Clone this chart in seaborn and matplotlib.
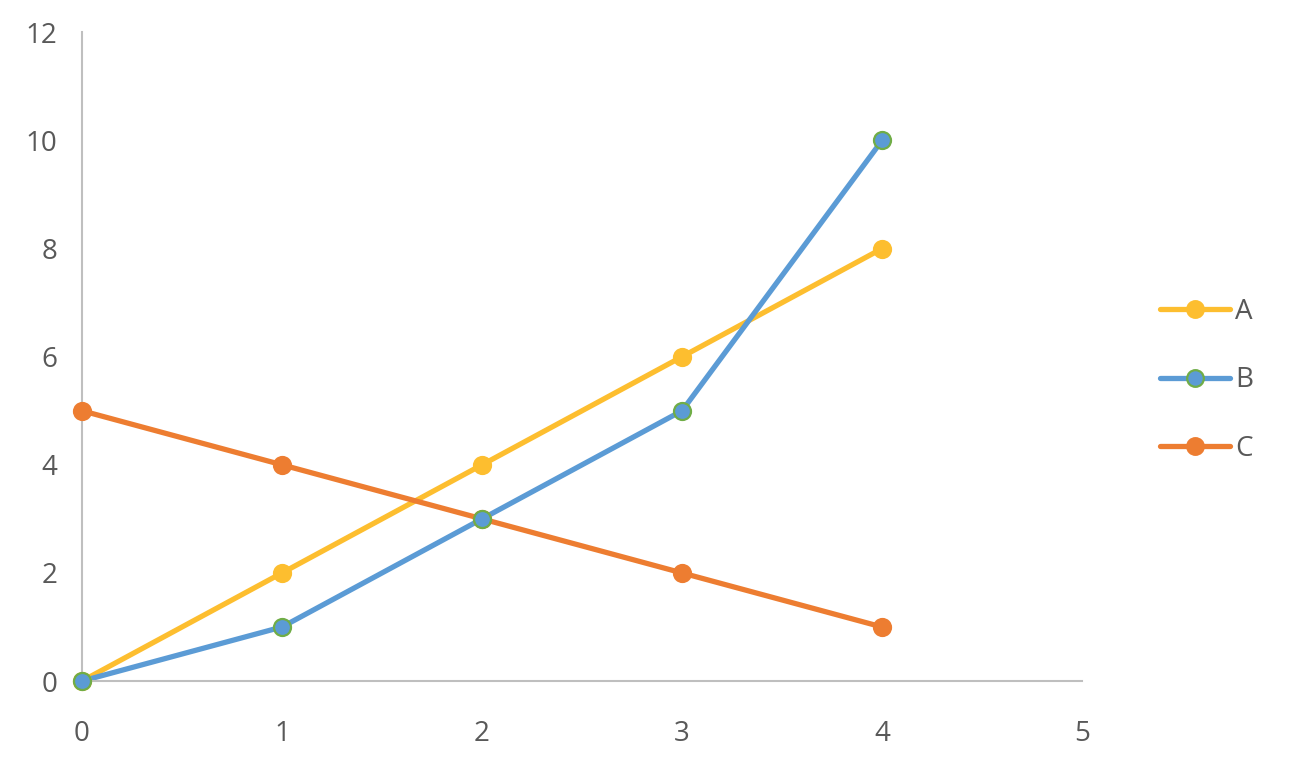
import matplotlib
matplotlib.use("Agg")
import matplotlib.pyplot as plt
from matplotlib.lines import Line2D
import pandas as pd
import seaborn as sns

x_vals = [0, 1, 2, 3, 4]
series_a = [0, 2, 4, 6, 8]
series_b = [0, 1, 3, 5, 10]
series_c = [5, 4, 3, 2, 1]
names = ["A", "B", "C"]

colors = {"A": "#FDBE2F", "B": "#5B9BD5", "C": "#ED7D31"}
edges = {"A": "#FDBE2F", "B": "#70AD47", "C": "#ED7D31"}

df = pd.DataFrame({
    "x": x_vals * 3,
    "y": series_a + series_b + series_c,
    "series": [n for n in names for _ in x_vals],
})

sns.set_style("white")
plt.rcParams['font.family'] = ['Open Sans', 'DejaVu Sans']

fig = plt.figure(figsize=(12.96, 7.64), dpi=100)
ax = fig.add_axes([0.0633, 0.1086, 0.7716, 0.849])

# lines first, markers on top (B marker drawn last like the original)
for name in names:
    sub = df[df["series"] == name]
    sns.lineplot(data=sub, x="x", y="y", ax=ax, color=colors[name],
                 linewidth=3.8, zorder=2, solid_capstyle="round")
for i, name in enumerate(["A", "C", "B"]):
    sub = df[df["series"] == name]
    sns.scatterplot(data=sub, x="x", y="y", ax=ax, color=colors[name],
                    edgecolor=edges[name], linewidth=1.6, s=150,
                    zorder=4 + i, clip_on=False)

ax.set_xlim(0, 5)
ax.set_ylim(0, 12)
ax.set_xticks(range(0, 6))
ax.set_yticks(range(0, 13, 2))
ax.set_xlabel("")
ax.set_ylabel("")
for s in ["top", "right"]:
    ax.spines[s].set_visible(False)
for s in ["left", "bottom"]:
    ax.spines[s].set_color("#BFBFBF")
    ax.spines[s].set_linewidth(1.5)
ax.tick_params(axis="both", length=0, labelsize=20, colors="#595959")
ax.tick_params(axis="x", pad=28)
ax.tick_params(axis="y", pad=18)

handles = [Line2D([], [], color=colors[n], linewidth=3.8, marker="o",
                  markersize=12, markerfacecolor=colors[n],
                  markeredgecolor=edges[n], markeredgewidth=1.6)
           for n in names]
fig.legend(handles, names, loc="center left", bbox_to_anchor=(0.876, 0.502),
           frameon=False, fontsize=20, labelcolor="#595959",
           handlelength=2.5, handletextpad=0.2, labelspacing=1.45)

fig.savefig("out.png", dpi=100)
